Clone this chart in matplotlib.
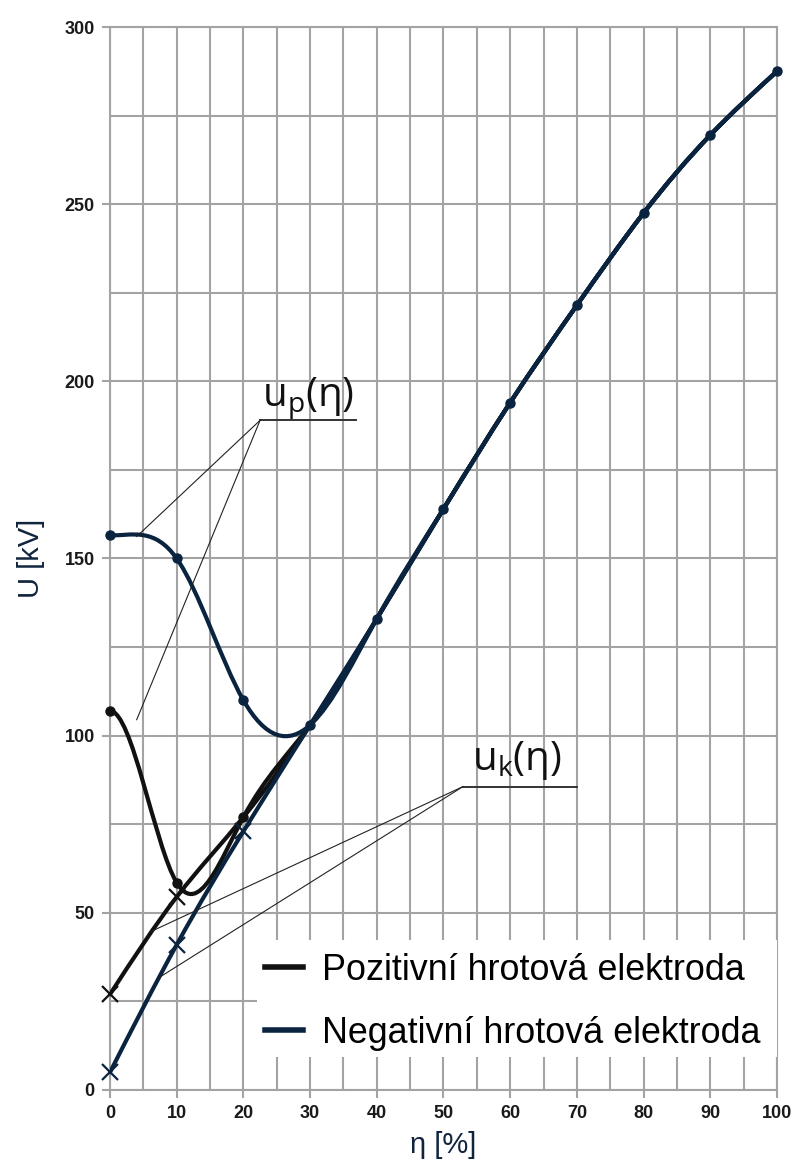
import numpy as np
import matplotlib
matplotlib.use("Agg")
import matplotlib.pyplot as plt
from matplotlib.path import Path
from matplotlib.patches import PathPatch, Rectangle
from matplotlib.lines import Line2D

# ---------------- data ----------------
eta = [0, 10, 20, 30, 40, 50, 60, 70, 80, 90, 100]
neg_up = [156.5, 150, 110, 103, 133, 164, 194, 221.5, 247.5, 269.5, 287.5]
neg_uk = [5, 41, 73, 103, 133, 164, 194, 221.5, 247.5, 269.5, 287.5]
pos_up = [107, 58.5, 77, 103, 133, 164, 194, 221.5, 247.5, 269.5, 287.5]
pos_uk = [27, 54.5, 77, 103, 133, 164, 194, 221.5, 247.5, 269.5, 287.5]

legend_labels = ["Pozitivní hrotová elektroda", "Negativní hrotová elektroda"]
xticks = [0, 10, 20, 30, 40, 50, 60, 70, 80, 90, 100]
yticks = [0, 50, 100, 150, 200, 250, 300]

NAVY = "#0a2440"
BLACK = "#111111"
GRID = "#a3a3a3"


def spline_path(xs, ys, start_slope=None):
    """Cubic spline through the points, returned as a Bezier path."""
    x = np.asarray(xs, float)
    y = np.asarray(ys, float)
    n = len(x)
    h = np.diff(x)
    d = np.diff(y) / h
    A = np.zeros((n, n))
    b = np.zeros(n)
    if start_slope is None:
        A[0, 0], A[0, 1], b[0] = 2, 1, 3 * d[0]
    else:
        A[0, 0], b[0] = 1, start_slope
    for i in range(1, n - 1):
        A[i, i - 1] = h[i]
        A[i, i] = 2 * (h[i - 1] + h[i])
        A[i, i + 1] = h[i - 1]
        b[i] = 3 * (h[i] * d[i - 1] + h[i - 1] * d[i])
    A[-1, -2], A[-1, -1], b[-1] = 1, 2, 3 * d[-1]
    m = np.linalg.solve(A, b)
    verts = [(x[0], y[0])]
    codes = [Path.MOVETO]
    for i in range(n - 1):
        verts += [(x[i] + h[i] / 3, y[i] + m[i] * h[i] / 3),
                  (x[i + 1] - h[i] / 3, y[i + 1] - m[i + 1] * h[i] / 3),
                  (x[i + 1], y[i + 1])]
        codes += [Path.CURVE4] * 3
    return Path(verts, codes)


fig = plt.figure(figsize=(7.96, 11.70), dpi=100)
ax = fig.add_axes([0.1382, 0.0684, 0.8379, 0.9085])
ax.set_xlim(0, 100)
ax.set_ylim(0, 300)

# grid
ax.set_xticks(xticks)
ax.set_yticks(yticks)
ax.set_xticks(np.arange(0, 101, 5), minor=True)
ax.set_yticks(np.arange(0, 301, 25), minor=True)
ax.grid(True, which="both", color=GRID, linewidth=1.5, zorder=0)
ax.set_axisbelow(True)
for s in ax.spines.values():
    s.set_color(GRID)
    s.set_linewidth(1.5)
ax.tick_params(which="major", direction="out", length=6, width=1.5, color=GRID,
               labelsize=13, pad=5, labelcolor="#1a1a1a")
ax.tick_params(which="minor", length=0)
for lab in ax.get_xticklabels() + ax.get_yticklabels():
    lab.set_fontweight("bold")
    lab.set_family(["Liberation Sans", "DejaVu Sans"])

# curves (black first, navy on top)
for vals, start in ((pos_uk, None), (pos_up, 0.0)):
    ax.add_patch(PathPatch(spline_path(eta, vals, start), fill=False,
                           edgecolor=BLACK, linewidth=3.0, zorder=3,
                           capstyle="round", joinstyle="round"))
for vals, start in ((neg_uk, None), (neg_up, 0.0)):
    ax.add_patch(PathPatch(spline_path(eta, vals, start), fill=False,
                           edgecolor=NAVY, linewidth=3.0, zorder=4,
                           capstyle="round", joinstyle="round"))

# markers
ax.plot(eta[:2], pos_uk[:2], ls="none", marker="x", ms=11, mew=1.6,
        color=BLACK, zorder=5, clip_on=False)
ax.plot(eta[:3], pos_up[:3], ls="none", marker="o", ms=6.5,
        color=BLACK, zorder=5, clip_on=False)
ax.plot(eta[:3], neg_uk[:3], ls="none", marker="x", ms=11, mew=1.6,
        color=NAVY, zorder=6, clip_on=False)
ax.plot(eta, neg_up, ls="none", marker="o", ms=6.5,
        color=NAVY, zorder=6, clip_on=False)

# annotation leaders
lk = dict(color="#222222", linewidth=0.8, zorder=7)
ax.plot([22.5, 36.9], [189, 189], color="#333333", linewidth=1.4, zorder=7)
ax.plot([4.0, 22.5], [156.2, 189], **lk)
ax.plot([4.0, 22.5], [104.5, 189], **lk)
ax.plot([52.9, 70.0], [85.6, 85.6], color="#333333", linewidth=1.4, zorder=7)
ax.plot([6.0, 52.9], [44.6, 85.6], **lk)
ax.plot([7.5, 52.9], [31.9, 85.6], **lk)

ann_font = ["Open Sans", "DejaVu Sans"]
ax.text(22.8, 193.0, r"u$_\mathregular{p}$(η)", fontsize=29, family=ann_font,
        color="#111111", va="baseline", ha="left", zorder=8)
ax.text(54.2, 90.4, r"u$_\mathregular{k}$(η)", fontsize=29, family=ann_font,
        color="#111111", va="baseline", ha="left", zorder=8)

# legend: white background area + entries
ax.add_patch(Rectangle((0.2204, 0.031), 0.7796, 0.110, transform=ax.transAxes,
                       facecolor="white", edgecolor="none", zorder=8))
handles = [Line2D([], [], color=BLACK, linewidth=4),
           Line2D([], [], color=NAVY, linewidth=4)]
leg = ax.legend(handles, legend_labels, loc="upper left",
                bbox_to_anchor=(0.2324, 0.1290), borderaxespad=0,
                prop={"family": ["Liberation Sans", "DejaVu Sans"], "size": 25.8},
                frameon=False, handlelength=1.06, handletextpad=0.53,
                labelspacing=0.78, borderpad=0)
leg.set_zorder(9)

ax.set_ylabel("U [kV]", fontsize=21, color="#10243e",
              family=["Liberation Sans", "DejaVu Sans"], labelpad=14)
ax.set_xlabel("η [%]", fontsize=21, color="#10243e",
              family=["Liberation Sans", "DejaVu Sans"], labelpad=6)

fig.savefig("out.png", dpi=100)
